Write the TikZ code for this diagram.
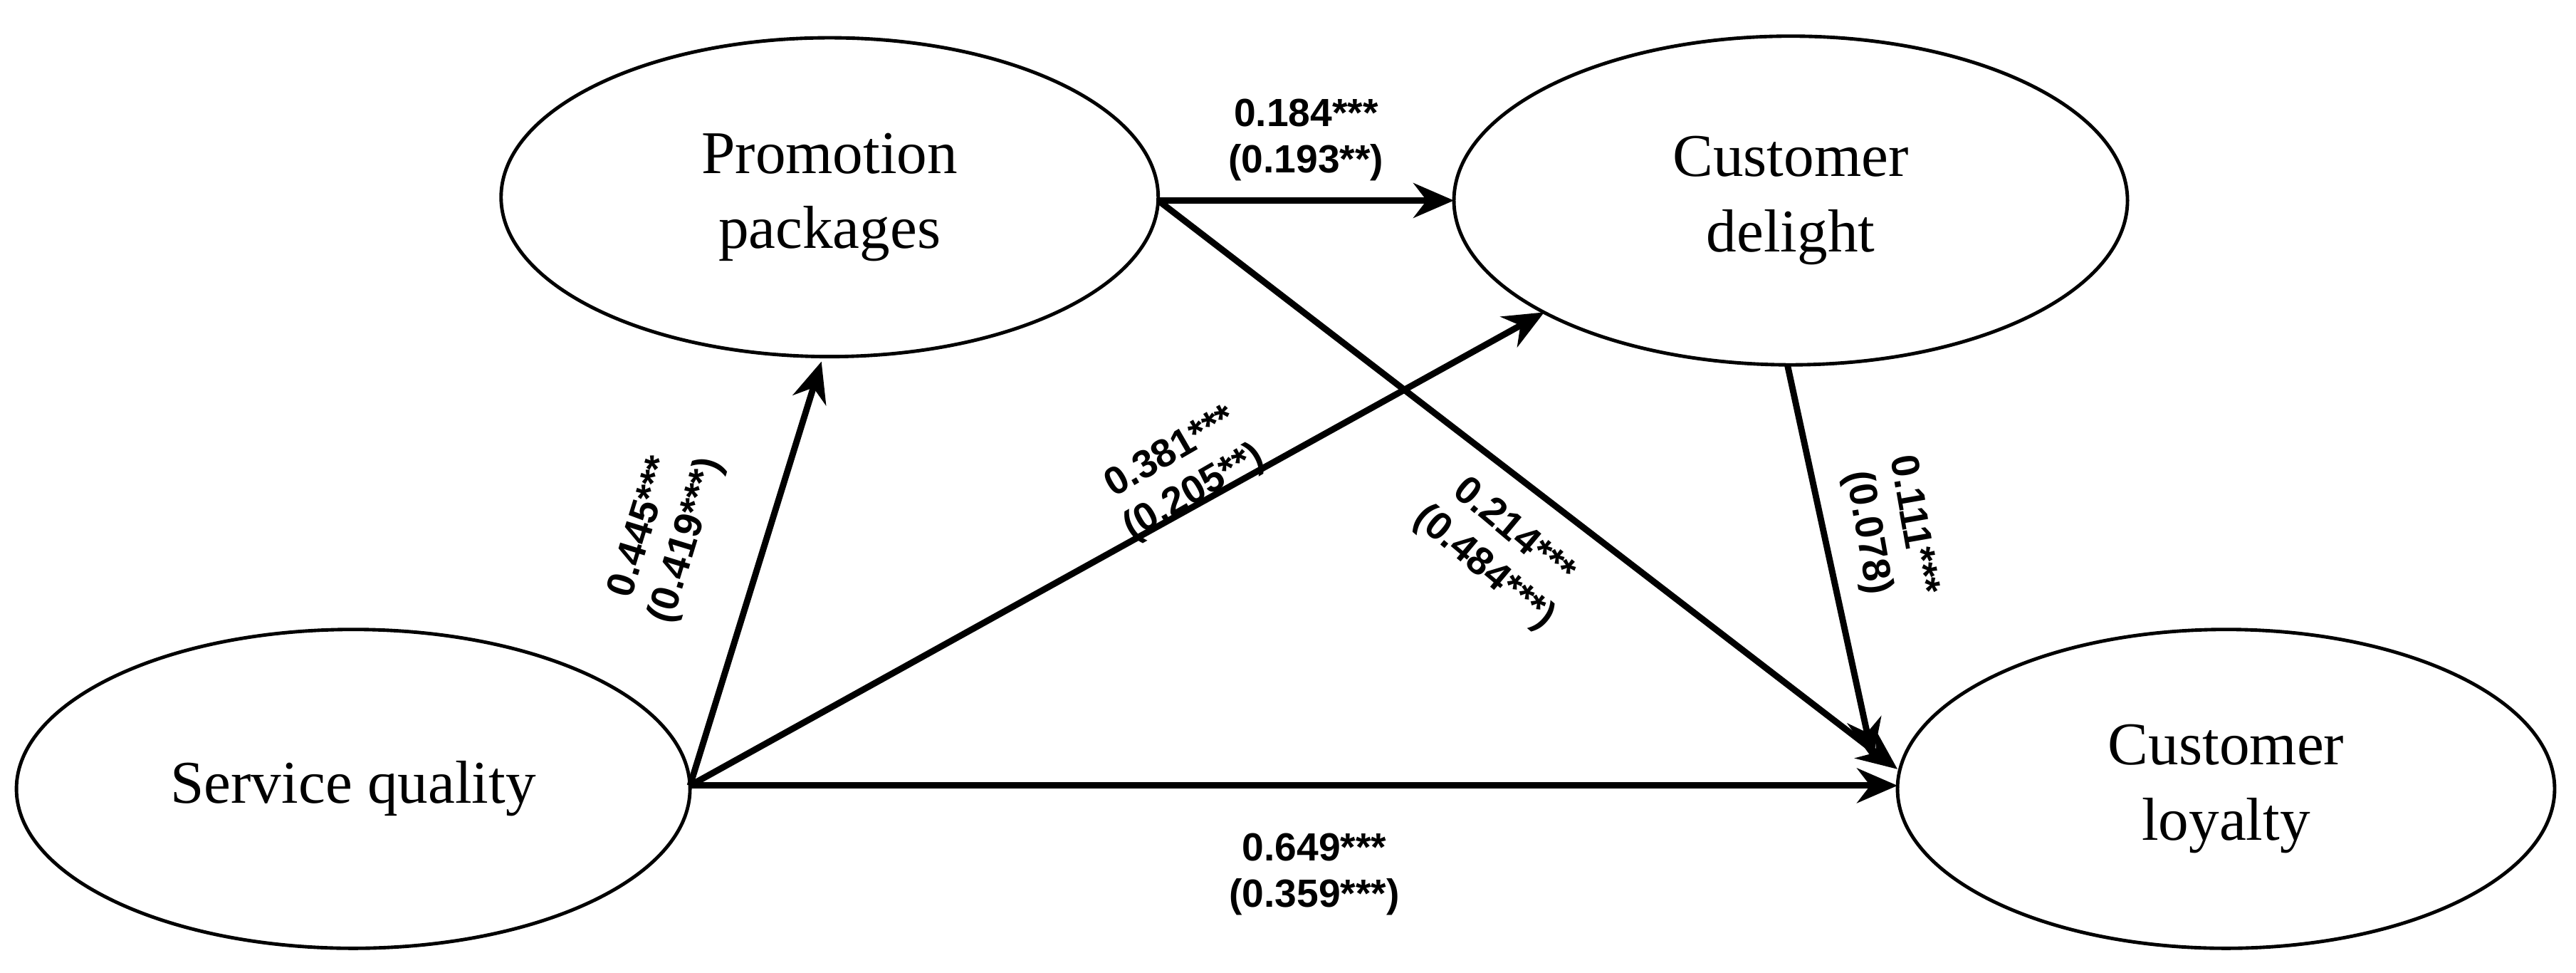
\documentclass[tikz,border=0pt]{standalone}
\usepackage{fontspec}
\setmainfont{Liberation Serif}
\newfontfamily\lab{Liberation Sans}
\usetikzlibrary{arrows.meta}
\begin{document}
\begin{tikzpicture}[x=0.01cm,y=-0.01cm,
  ell/.style={line width=0.6pt},
  txt/.style={align=center,font=\fontsize{10.5}{13}\selectfont},
  arr/.style={line width=1.1pt,-{Stealth[length=7pt,width=6pt]}},
  lbl/.style={align=center,font=\lab\bfseries\fontsize{6.8}{8}\selectfont}]
\useasboundingbox (0,0) rectangle (1568,592);
\draw[ell] (215,480) ellipse [x radius=205,y radius=97];
\node[txt] (sq) at (215,480) {Service quality};
\draw[ell] (505,120) ellipse [x radius=200,y radius=97];
\node[txt] (pp) at (505,120) {Promotion\\packages};
\draw[ell] (1090,122) ellipse [x radius=205,y radius=100];
\node[txt] (cd) at (1090,122) {Customer\\delight};
\draw[ell] (1355,480) ellipse [x radius=200,y radius=97];
\node[txt] (cl) at (1355,480) {Customer\\loyalty};
\coordinate (sqE) at (420,478);
\coordinate (ppB) at (500,220);
\coordinate (cdL) at (940,190);
\coordinate (clW) at (1155,478);
\coordinate (ppE) at (705,122);
\coordinate (cdW) at (885,122);
\coordinate (clT) at (1155,468);
\coordinate (cdB) at (1088,222);
\coordinate (clU) at (1140,462);
\draw[arr] (sqE) -- (ppB);
\draw[arr] (sqE) -- (cdL);
\draw[arr] (sqE) -- (clW);
\draw[arr] (ppE) -- (cdW);
\draw[arr] (ppE) -- (clT);
\draw[arr] (cdB) -- (clU);
\node[lbl] (l1) at (795,85) {0.184***\\(0.193**)};
\node[lbl] (l2) at (800,532) {0.649***\\(0.359***)};
\node[lbl,rotate=73] (l3) at (405,325) {0.445***\\(0.419***)};
\node[lbl,rotate=30] (l4) at (720,288) {0.381***\\(0.205**)};
\node[lbl,rotate=-40] (l5) at (912,335) {0.214***\\(0.484***)};
\node[lbl,rotate=-80] (l6) at (1150,322) {0.111***\\(0.078)};
\end{tikzpicture}
\end{document}
